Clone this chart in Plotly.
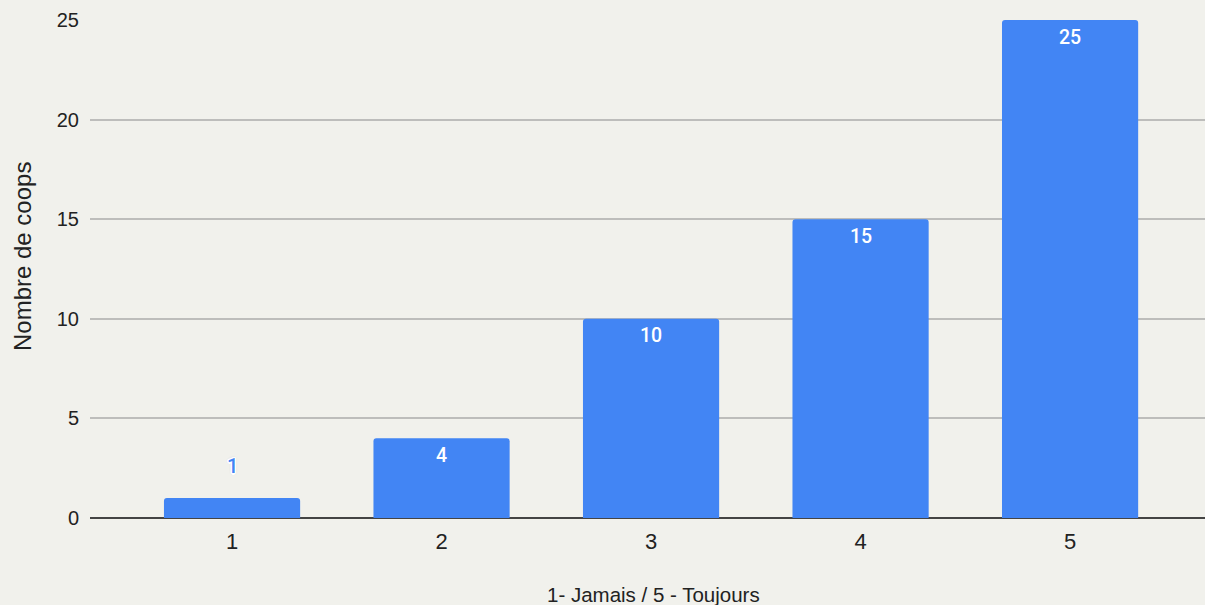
import plotly.graph_objects as go

# Survey answers on a 1–5 scale and the number of coops per answer
categories = [1, 2, 3, 4, 5]
counts = [1, 4, 10, 15, 25]
y_ticks = [0, 5, 10, 15, 20, 25]
x_title = "1- Jamais / 5 - Toujours"
y_title = "Nombre de coops"

BG = "#f1f1ec"
BLUE = "#4285f4"
FONT = "Liberation Sans, Arial, sans-serif"
LABEL_FONT = "Roboto, Liberation Sans, sans-serif"

fig = go.Figure()
fig.add_trace(go.Bar(
    x=categories,
    y=counts,
    width=0.65,
    marker=dict(color=BLUE, cornerradius=3, line=dict(width=0)),
    hoverinfo="skip",
))

# Value labels: white inside the bar near its top, blue with white outline above short bars
outline = ("1.5px 0 0 white, -1.5px 0 0 white, 0 1.5px 0 white, 0 -1.5px 0 white, "
           "1px 1px 0 white, -1px -1px 0 white, 1px -1px 0 white, -1px 1px 0 white, "
           "0 0 2.5px #8a8a8a")
for c, v in zip(categories, counts):
    if v >= 3:
        fig.add_annotation(x=c, y=v, text=str(v), showarrow=False, yanchor="middle",
                           yshift=-17,
                           font=dict(family=LABEL_FONT, size=19.5, weight=500, color="white"))
    else:
        fig.add_annotation(x=c, y=v, text=str(v), showarrow=False, yanchor="middle",
                           yshift=32,
                           font=dict(family=LABEL_FONT, size=20, weight=500, color=BLUE,
                                     shadow=outline))

# Axis titles placed as paper annotations
fig.add_annotation(xref="paper", yref="paper", x=0.5058, y=-0.1546, text=x_title,
                   showarrow=False, xanchor="center", yanchor="middle",
                   font=dict(family=FONT, size=20.5, color="#222222"))
fig.add_annotation(xref="paper", yref="paper", x=-0.061, y=0.526, text=y_title,
                   showarrow=False, xanchor="center", yanchor="middle", textangle=-90,
                   font=dict(family=FONT, size=24, color="#222222"))

fig.update_layout(
    width=1205, height=605,
    margin=dict(l=90, r=0, t=20, b=87),
    paper_bgcolor=BG, plot_bgcolor=BG,
    font=dict(family=FONT, size=19, color="#222222"),
    showlegend=False,
    xaxis=dict(
        range=[0.322, 5.644],
        tickmode="array", tickvals=categories, ticktext=[str(c) for c in categories],
        showgrid=False, zeroline=False, showline=False, ticks="",
        tickfont=dict(size=22), ticklabelstandoff=8,
    ),
    yaxis=dict(
        range=[0, 25],
        tickmode="array", tickvals=y_ticks,
        showgrid=True, gridcolor="#bdbdbb", gridwidth=1.5,
        zeroline=True, zerolinecolor="#444444", zerolinewidth=2,
        showline=False, ticks="", ticklabelstandoff=10,
        tickfont=dict(size=20),
    ),
)

fig.write_html("out.html")
